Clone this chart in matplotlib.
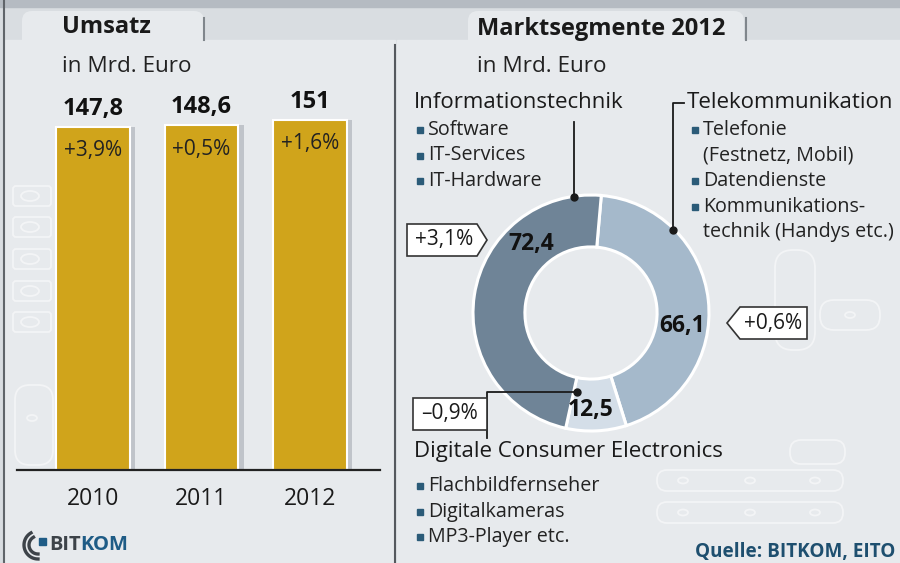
import numpy as np
import matplotlib
matplotlib.use("Agg")
import matplotlib.pyplot as plt
from matplotlib.patches import Rectangle, FancyBboxPatch, Polygon, Ellipse

plt.rcParams['font.family'] = ['Open Sans', 'DejaVu Sans']

# data
years = ['2010', '2011', '2012']
umsatz = [147.8, 148.6, 151]
umsatz_labels = ['147,8', '148,6', '151']
umsatz_change = ['+3,9%', '+0,5%', '+1,6%']

segments = ['Telekommunikation', 'Digitale Consumer Electronics', 'Informationstechnik']
segment_values = [66.1, 12.5, 72.4]
segment_labels = ['66,1', '12,5', '72,4']
segment_change = ['+0,6%', '–0,9%', '+3,1%']

it_items = ['Software', 'IT-Services', 'IT-Hardware']
tk_items = ['Telefonie', '(Festnetz, Mobil)', 'Datendienste', 'Kommunikations-', 'technik (Handys etc.)']
tk_bullets = [True, False, True, True, False]
ce_items = ['Flachbildfernseher', 'Digitalkameras', 'MP3-Player etc.']

W, H = 900, 563
panel_c = '#e7eaed'
fig = plt.figure(figsize=(9, 5.63), dpi=100)
fig.patch.set_facecolor('#d9dde1')

def px_axes(z):
    a = fig.add_axes([0, 0, 1, 1], zorder=z)
    a.set_xlim(0, W)
    a.set_ylim(H, 0)
    a.axis('off')
    a.patch.set_alpha(0)
    return a

bg = px_axes(0)
# top strip, tabs and panels
bg.add_patch(Rectangle((0, 0), W, 7, color='#b5bbc2'))
bg.add_patch(Rectangle((5, 40), 390, H - 40, color=panel_c))
bg.add_patch(Rectangle((397, 40), W - 397, H - 40, color=panel_c))
bg.add_patch(FancyBboxPatch((22, 11), 182, 40, boxstyle='round,pad=0,rounding_size=10',
                            fc=panel_c, ec='none'))
bg.add_patch(FancyBboxPatch((468, 11), 276, 40, boxstyle='round,pad=0,rounding_size=10',
                            fc=panel_c, ec='none'))
bg.plot([204, 204], [18, 40], color='#80868c', lw=1.5)
bg.plot([746, 746], [18, 40], color='#80868c', lw=1.5)
bg.plot([4, 4], [0, H], color='#60656a', lw=1.5)
bg.plot([395, 395], [45, H], color='#55595e', lw=1.5)

# faint circuit traces
tr = dict(fc='none', ec='white', lw=1.3, alpha=0.5)
for yc in [196, 227, 259, 291, 322]:
    bg.add_patch(FancyBboxPatch((13, yc - 10), 38, 20, boxstyle='round,pad=0,rounding_size=3', **tr))
    bg.add_patch(Ellipse((30, yc), 18, 10, **tr))
for yc in [470, 502]:
    bg.add_patch(FancyBboxPatch((657, yc), 186, 21, boxstyle='round,pad=0,rounding_size=10', **tr))
    for xc in [683, 750, 815]:
        bg.add_patch(Ellipse((xc, yc + 10.5), 10, 6, **tr))
bg.add_patch(FancyBboxPatch((790, 440), 55, 24, boxstyle='round,pad=0,rounding_size=11', **tr))
bg.add_patch(FancyBboxPatch((15, 385), 38, 80, boxstyle='round,pad=0,rounding_size=15', **tr))
bg.add_patch(Ellipse((32, 418), 10, 6, **tr))
bg.add_patch(FancyBboxPatch((775, 250), 40, 100, boxstyle='round,pad=0,rounding_size=18', **tr))
bg.add_patch(Ellipse((795, 330), 10, 6, **tr))
bg.add_patch(FancyBboxPatch((820, 300), 60, 30, boxstyle='round,pad=0,rounding_size=14', **tr))
bg.add_patch(Ellipse((850, 315), 10, 6, **tr))

# bar chart
axb = fig.add_axes([17 / W, 1 - 470 / H, 363 / W, 371 / H], zorder=1)
axb.patch.set_alpha(0)
x = np.arange(len(years))
axb.bar(x + 0.05, umsatz, width=0.68, color='#9aa0a8', alpha=0.5, linewidth=0)
axb.bar(x, umsatz, width=0.68, color='#d0a41b', edgecolor='white', linewidth=1.5)
axb.set_xlim(-0.70, 2.645)
axb.set_ylim(0, 160)
for s in ['top', 'right', 'left']:
    axb.spines[s].set_visible(False)
axb.spines['bottom'].set_linewidth(1.6)
axb.spines['bottom'].set_color('#222222')
axb.set_yticks([])
axb.set_xticks(x)
axb.set_xticklabels(years, fontsize=16.5, color='#1a1a1a')
axb.tick_params(axis='x', length=0, pad=12)
for i, v in enumerate(umsatz):
    axb.annotate(umsatz_labels[i], (x[i], v), xytext=(0, 13), textcoords='offset points',
                 ha='center', va='center', fontsize=17, fontweight='bold', color='#111111')
    axb.annotate(umsatz_change[i], (x[i], v), xytext=(0, -17), textcoords='offset points',
                 ha='center', va='center', fontsize=15, color='#222222')

# donut
cx, cy, R = 591, 313, 118
axp = fig.add_axes([(cx - R) / W, 1 - (cy + R) / H, 2 * R / W, 2 * R / H], zorder=1)
wedges, _ = axp.pie(segment_values, colors=['#a5b9cb', '#d4dee8', '#6f8497'],
                    startangle=85, counterclock=False, radius=1,
                    wedgeprops=dict(width=0.44, edgecolor='white', linewidth=2.2))
axp.set_xlim(-1, 1)
axp.set_ylim(-1, 1)
label_pos = [(0.78, -8), (0.82, -90), (0.77, 131)]
for lab, (r, ang) in zip(segment_labels, label_pos):
    t = np.deg2rad(ang)
    axp.text(r * np.cos(t), r * np.sin(t), lab, ha='center', va='center',
             fontsize=16.5, fontweight='bold', color='#111111')

ov = px_axes(2)
dark = '#1a1a1a'
ov.text(62, 27, 'Umsatz', fontsize=17, fontweight='bold', va='center', color=dark)
ov.text(62, 67, 'in Mrd. Euro', fontsize=16.2, va='center', color='#222222')
ov.text(477, 29, 'Marktsegmente 2012', fontsize=17, fontweight='bold', va='center', color=dark)
ov.text(477, 67, 'in Mrd. Euro', fontsize=16.2, va='center', color='#222222')

bullet_c = '#2b5b78'
def bullet_list(x0, y0, items, flags=None, step=25.5):
    for k, it in enumerate(items):
        y = y0 + k * step
        if flags is None or flags[k]:
            ov.add_patch(Rectangle((x0, y - 3), 6, 6, color=bullet_c))
        ov.text(x0 + 11, y, it, fontsize=14.2, va='center', color='#222222')

ov.text(414, 103, segments[2], fontsize=16, va='center', color=dark)
bullet_list(417, 130, it_items)
ov.text(687, 103, segments[0], fontsize=16, va='center', color=dark)
bullet_list(692, 130, tk_items, tk_bullets)
ov.text(414, 452, segments[1], fontsize=16, va='center', color=dark)
bullet_list(417, 486, ce_items)

# leader lines
ov.plot([574, 574], [122, 197], color=dark, lw=1.3)
ov.plot(574, 197, 'o', color=dark, ms=5)
ov.plot([684, 673, 673], [103, 103, 230], color=dark, lw=1.3)
ov.plot(673, 230, 'o', color=dark, ms=5)
ov.plot([577, 487, 487], [392, 392, 438], color=dark, lw=1.3)
ov.plot(577, 392, 'o', color=dark, ms=5)

# change boxes
box = dict(fc='white', ec='#333333', lw=1.2, zorder=3)
ov.add_patch(Polygon([(407, 224), (477, 224), (487, 240), (477, 256), (407, 256)], **box))
ov.text(444, 240, segment_change[2], fontsize=15, ha='center', va='center', color=dark, zorder=4)
ov.add_patch(Polygon([(740, 307), (807, 307), (807, 339), (740, 339), (727, 323)], **box))
ov.text(773, 323, segment_change[0], fontsize=15, ha='center', va='center', color=dark, zorder=4)
ov.add_patch(Polygon([(413, 398), (487, 398), (487, 430), (413, 430)], **box))
ov.text(449, 414, segment_change[1], fontsize=15, ha='center', va='center', color=dark, zorder=4)

# footer
ov.text(81, 545, 'BIT', fontsize=14.5, fontweight='bold', ha='right', va='center', color='#3d4349')
ov.text(80, 545, 'KOM', fontsize=14.5, fontweight='bold', ha='left', va='center', color='#1f5c86')
th = np.linspace(np.deg2rad(120), np.deg2rad(270), 30)
ov.plot(38 + 14 * np.cos(th), 545 - 14 * np.sin(th), color='#3d4349', lw=2.4)
ov.plot(38 + 9 * np.cos(th), 545 - 9 * np.sin(th), color='#3d4349', lw=2.4)
ov.add_patch(Rectangle((39, 538), 7, 7, color='#1f5c86'))
ov.text(895, 552, 'Quelle: BITKOM, EITO', fontsize=13.6, fontweight='bold', ha='right',
        va='center', color='#1e4f6f')

fig.savefig('out.png', dpi=100, facecolor=fig.get_facecolor())
